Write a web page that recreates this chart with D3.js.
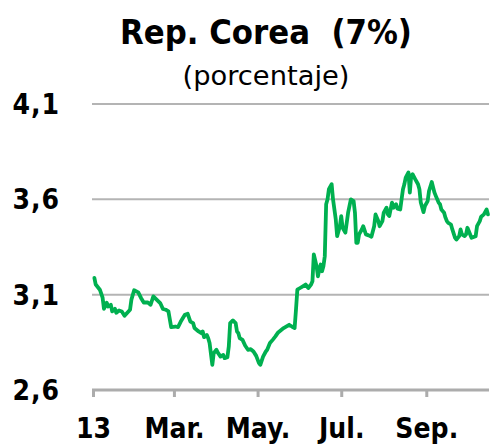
<!DOCTYPE html>
<html><head><meta charset="utf-8">
<script src="https://cdn.jsdelivr.net/npm/d3@7"></script>
<style>
html,body{margin:0;padding:0;background:#fff;}
svg{display:block;}
text{font-family:"DejaVu Sans",sans-serif;fill:#000;}
.cond{font-family:"DejaVu Sans Condensed","DejaVu Sans",sans-serif;font-stretch:condensed;font-weight:bold;}
</style></head>
<body>
<svg id="chart" width="495" height="444"></svg>
<script>
const title = "Rep. Corea  (7%)";
const subtitle = "(porcentaje)";
const startDate = new Date(2013, 0, 1);
// day offsets from 1 Jan 2013
const days = [1,2,5,7,8,10,11,13,14,16,17,19,21,23,25,27,28,30,33,35,37,40,42,44,46,49,51,53,55,57,
60,62,64,67,69,71,73,74,77,79,80,81,83,84,85,87,88,90,91,93,95,96,98,99,100,102,104,105,106,107,
109,111,113,115,117,119,121,122,124,126,127,129,131,133,135,139,143,145,147,148,149,151,153,155,157,159,
160,161,163,164,165,166,167,168,169,170,171,172,174,175,177,178,180,181,182,184,186,188,190,191,
192,193,194,196,197,199,201,203,205,206,207,208,209,211,212,214,215,216,218,219,221,222,224,225,
226,227,228,230,231,232,233,235,237,238,239,241,242,244,245,247,248,249,250,252,253,254,256,257,
258,259,261,262,264,265,267,268,269,271,272,273,275,276,279,280,282,283,285,287,288];
const values = [3.188,3.153,3.126,3.084,3.026,3.058,3.038,3.047,3.012,3.026,3.005,3.017,3.012,2.989,3.005,3.021,3.074,3.123,3.112,3.083,3.059,3.059,3.047,3.091,3.077,3.056,3.025,3.021,3.012,2.930,
2.933,2.930,2.959,2.995,3.000,2.959,2.951,2.925,2.907,2.898,2.907,2.877,2.889,2.872,2.846,2.732,2.793,2.811,2.796,2.775,2.784,2.767,2.772,2.828,2.951,2.965,2.951,2.907,2.898,2.872,
2.863,2.832,2.811,2.814,2.802,2.779,2.741,2.732,2.775,2.802,2.811,2.846,2.863,2.881,2.902,2.925,2.942,2.933,2.925,3.021,3.126,3.135,3.144,3.153,3.135,3.153,
3.170,3.311,3.249,3.196,3.232,3.258,3.223,3.249,3.302,3.574,3.600,3.653,3.679,3.600,3.495,3.407,3.459,3.512,3.451,3.425,3.530,3.600,3.591,3.530,
3.372,3.372,3.416,3.442,3.459,3.416,3.411,3.404,3.459,3.521,3.504,3.486,3.459,3.486,3.530,3.556,3.521,3.512,3.583,3.556,3.574,3.551,3.547,3.600,
3.653,3.679,3.714,3.741,3.635,3.723,3.732,3.705,3.679,3.653,3.583,3.533,3.565,3.591,3.644,3.691,3.662,3.635,3.617,3.583,3.574,3.547,3.530,3.504,
3.486,3.477,3.468,3.442,3.398,3.389,3.407,3.442,3.416,3.407,3.416,3.451,3.416,3.398,3.407,3.459,3.486,3.509,3.521,3.547,3.521];
const yTicks = [2.6, 3.1, 3.6, 4.1];
const yTickLabels = ["2,6","3,1","3,6","4,1"];
const xTickDates = [new Date(2013,0,1), new Date(2013,2,1), new Date(2013,4,1), new Date(2013,6,1), new Date(2013,8,1)];
const xTickLabels = ["13","Mar.","May.","Jul.","Sep."];

const data = days.map((d, i) => ({date: d3.timeDay.offset(startDate, d), value: values[i]}));

const svg = d3.select("#chart");
const x = d3.scaleTime().domain([startDate, d3.timeDay.offset(startDate, 288)]).range([93, 488]);
const y = d3.scaleLinear().domain([2.6, 4.1]).range([390, 104]);

function fitWidth(sel, target) {
  const s0 = parseFloat(sel.style("font-size"));
  const w = sel.node().getComputedTextLength();
  if (w > 0) sel.style("font-size", (s0 * target / w).toFixed(2) + "px");
}

// title
const t1 = svg.append("text").attr("class", "cond").attr("x", 266).attr("y", 44).attr("text-anchor", "middle")
  .style("font-size", "34px").style("white-space", "pre")
  .attr("xml:space", "preserve").text(title);
fitWidth(t1, 292);
const t2 = svg.append("text").attr("x", 266).attr("y", 85).attr("text-anchor", "middle")
  .style("font-size", "26px").text(subtitle);
fitWidth(t2, 167);

// gridlines
svg.append("g").selectAll("line").data(yTicks.filter(v => v > 2.6)).join("line")
  .attr("x1", 92).attr("x2", 489).attr("y1", d => y(d)).attr("y2", d => y(d))
  .attr("stroke", "#b4b4b4").attr("stroke-width", 2);

// y labels
svg.append("g").selectAll("text").data(yTicks).join("text").attr("class", "cond")
  .attr("x", 60).attr("y", d => y(d)).attr("dy", "0.36em").attr("text-anchor", "end")
  .style("font-size", "28px").style("letter-spacing", "1px")
  .text((d, i) => yTickLabels[i]);

// x axis
const xAxis = d3.axisBottom(x).tickValues(xTickDates).tickFormat((d, i) => xTickLabels[i])
  .tickSizeInner(7).tickSizeOuter(0).tickPadding(21);
const gx = svg.append("g").attr("transform", "translate(0,390)").call(xAxis);
gx.select(".domain").attr("stroke", "#acacac").attr("stroke-width", 3).attr("d", `M${x.range()[0]-1},0H${x.range()[1]+1}`);
gx.selectAll(".tick line").attr("stroke", "#acacac").attr("stroke-width", 3);
gx.selectAll(".tick text").attr("class", "cond").style("font-size", "28px")
  .attr("font-family", null).attr("font-size", null).attr("fill", "#000");

// line
const line = d3.line().x(d => x(d.date)).y(d => y(d.value));
svg.append("path").datum(data).attr("d", line).attr("fill", "none")
  .attr("stroke", "#00b050").attr("stroke-width", 3.8).attr("stroke-linejoin", "round").attr("stroke-linecap", "round");
</script>
</body></html>
